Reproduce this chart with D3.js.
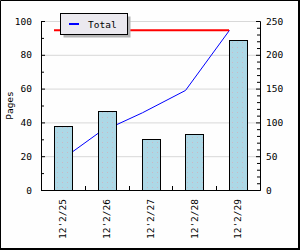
<!DOCTYPE html>
<html>
<head>
<meta charset="utf-8">
<script src="https://cdn.jsdelivr.net/npm/d3@7/dist/d3.min.js"></script>
<style>
	body { margin: 0; background: #fff; }
	svg { display: block; }
	text { font-family: "DejaVu Sans Mono", monospace; font-size: 9.5px; fill: #000; }
</style>
</head>
<body>
<div id="chart"></div>
<script>
// Data
let categories = ["12'2/25", "12'2/26", "12'2/27", "12'2/28", "12'2/29"];
let pages = [38, 47, 30, 33, 89];
let total = [38, 85, 115, 148, 237];
let leftTicks = [0, 20, 40, 60, 80, 100];
let rightTicks = [0, 50, 100, 150, 200, 250];
let legendLabels = ["Total"];

let width = 300;
let height = 250;
let plot = { left: 41, right: 260, top: 21, bottom: 190 };

let svg = d3.select("#chart").append("svg")
	.attr("width", width)
	.attr("height", height);

// Background and frame
svg.append("rect")
	.attr("width", width).attr("height", height)
	.attr("fill", "#fefefe");
svg.append("path")
	.attr("d", "M0.5,249 V0.5 H298.5 V249")
	.attr("fill", "none").attr("stroke", "#000").attr("stroke-width", 1);
svg.append("rect")
	.attr("x", 298).attr("y", 0).attr("width", 2).attr("height", 250).attr("fill", "#000");
svg.append("rect")
	.attr("x", 0).attr("y", 248).attr("width", 300).attr("height", 2).attr("fill", "#000");

// Scales
let x = d3.scaleBand()
	.domain(categories)
	.range([plot.left, plot.right]);

let yLeft = d3.scaleLinear()
	.domain([0, 100])
	.range([plot.bottom, plot.top]);

let yRight = d3.scaleLinear()
	.domain([0, 250])
	.range([plot.bottom, plot.top]);

let barWidth = 18;
let barX = function(d) { return Math.round(x(d) + (x.bandwidth() - barWidth) / 2); };

// Dotted fill for bars
let defs = svg.append("defs");
let pattern = defs.append("pattern")
	.attr("id", "dots")
	.attr("patternUnits", "userSpaceOnUse")
	.attr("width", 5).attr("height", 5);
pattern.append("rect").attr("width", 5).attr("height", 5).attr("fill", "#add8e6");
pattern.append("rect").attr("x", 2).attr("y", 2).attr("width", 1).attr("height", 1).attr("fill", "#c9b9c6");

// Grid lines
svg.append("g")
	.selectAll("line")
	.data(leftTicks.slice(1))
	.enter().append("line")
	.attr("x1", plot.left).attr("x2", plot.right)
	.attr("y1", function(d) { return yLeft(d) + 0.5; })
	.attr("y2", function(d) { return yLeft(d) + 0.5; })
	.attr("stroke", "#d8d8d8");

// Cumulative line (behind bars)
let line = d3.line()
	.x(function(d, i) { return barX(categories[i]) + 0.5; })
	.y(function(d) { return yRight(d) + 0.5; });

svg.append("path")
	.datum(total)
	.attr("d", line)
	.attr("fill", "none")
	.attr("stroke", "#0000ff")
	.attr("stroke-width", 1);

// Max marker line
let maxTotal = d3.max(total);
svg.append("line")
	.attr("x1", barX(categories[0]))
	.attr("x2", barX(categories[categories.length - 1]))
	.attr("y1", yRight(maxTotal) + 0.5)
	.attr("y2", yRight(maxTotal) + 0.5)
	.attr("stroke", "#ff0000")
	.attr("stroke-width", 2);

// Bars
svg.append("g")
	.selectAll("rect")
	.data(pages)
	.enter().append("rect")
	.attr("x", function(d, i) { return barX(categories[i]) + 0.5; })
	.attr("y", function(d) { return Math.round(yLeft(d)) + 0.5; })
	.attr("width", barWidth)
	.attr("height", function(d) { return plot.bottom - Math.round(yLeft(d)); })
	.attr("fill", "url(#dots)")
	.attr("stroke", "#000")
	.attr("stroke-width", 1);

// Axes
let leftAxis = svg.append("g")
	.attr("transform", "translate(" + plot.left + ",0)")
	.call(d3.axisLeft(yLeft).tickValues(leftTicks).tickSizeInner(-4).tickSizeOuter(0).tickPadding(9));
svg.append("g")
	.attr("transform", "translate(" + plot.left + ",0)")
	.call(d3.axisLeft(yLeft).tickValues(d3.range(10, 100, 20)).tickSizeInner(-3).tickSizeOuter(0).tickFormat(""));

let rightAxis = svg.append("g")
	.attr("transform", "translate(" + plot.right + ",0)")
	.call(d3.axisRight(yRight).tickValues(rightTicks).tickSizeInner(-4).tickSizeOuter(0).tickPadding(6));
svg.append("g")
	.attr("transform", "translate(" + plot.right + ",0)")
	.call(d3.axisRight(yRight).tickValues(d3.range(10, 250, 10).filter(function(v) { return v % 50; })).tickSizeInner(-3).tickSizeOuter(0).tickFormat(""));

let bottomAxis = svg.append("g")
	.attr("transform", "translate(0," + plot.bottom + ")")
	.call(d3.axisBottom(x).tickSize(0).tickPadding(0));
bottomAxis.selectAll(".tick text")
	.attr("transform", "rotate(-90)")
	.attr("text-anchor", "end")
	.attr("x", -9)
	.attr("y", 0)
	.attr("dy", "0.35em");

// Band boundary ticks
svg.append("g")
	.selectAll("line")
	.data(categories.slice(1))
	.enter().append("line")
	.attr("x1", function(d) { return Math.round(x(d)) + 0.5; })
	.attr("x2", function(d) { return Math.round(x(d)) + 0.5; })
	.attr("y1", plot.bottom - 4)
	.attr("y2", plot.bottom)
	.attr("stroke", "#000");

svg.selectAll(".domain").attr("stroke", "#000");
svg.selectAll(".tick line").attr("stroke", "#000");
svg.selectAll(".tick text").style("font-family", "DejaVu Sans Mono").style("font-size", "9.5px");

// Y axis title
svg.append("text")
	.attr("transform", "translate(13," + ((plot.top + plot.bottom) / 2) + ") rotate(-90)")
	.attr("text-anchor", "middle")
	.text("Pages");

// Legend
let legend = svg.append("g").attr("transform", "translate(60,13)");
legend.append("rect")
	.attr("x", 3.5).attr("y", 3.5).attr("width", 67).attr("height", 21)
	.attr("fill", "#b4b4b4");
legend.append("rect")
	.attr("x", 0.5).attr("y", 0.5).attr("width", 67).attr("height", 21)
	.attr("fill", "#ebe9ef").attr("stroke", "#000");
legend.selectAll("g.item")
	.data(legendLabels)
	.enter().append("g")
	.attr("class", "item")
	.each(function(d) {
		let g = d3.select(this);
		g.append("line")
			.attr("x1", 9).attr("x2", 19)
			.attr("y1", 11).attr("y2", 11)
			.attr("stroke", "#0000ff").attr("stroke-width", 2);
		g.append("text")
			.attr("x", 28).attr("y", 14.5)
			.text(d);
	});
</script>
</body>
</html>
